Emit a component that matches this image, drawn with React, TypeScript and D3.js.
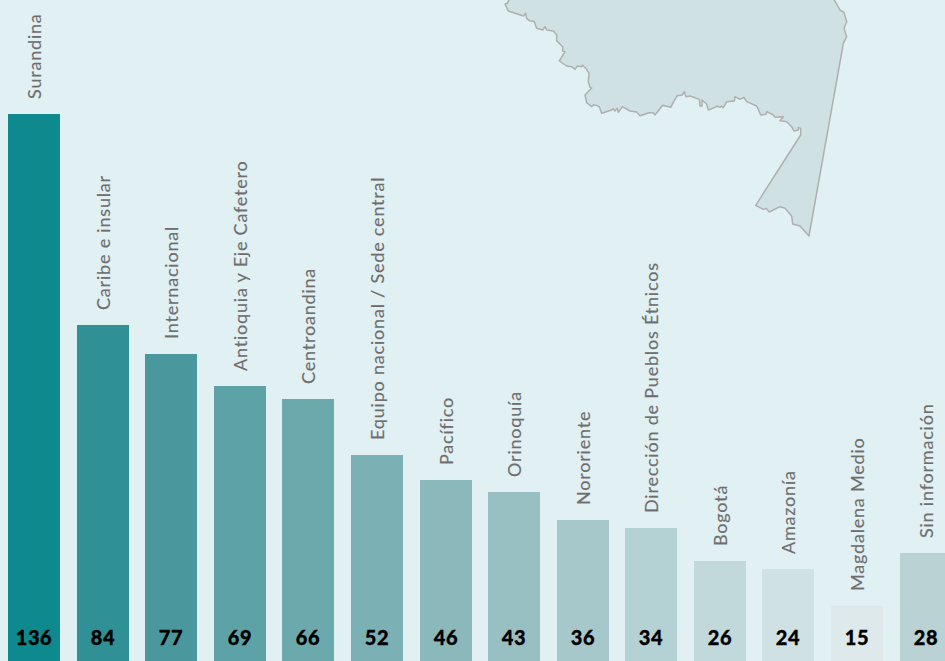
import React from "react";
import * as d3 from "d3";

const W = 945;
const H = 661;

const categories = ["Surandina","Caribe e insular","Internacional","Antioquia y Eje Cafetero","Centroandina","Equipo nacional / Sede central","Pacífico","Orinoquía","Nororiente","Dirección de Pueblos Étnicos","Bogotá","Amazonía","Magdalena Medio","Sin información"];
const values = [136,84,77,69,66,52,46,43,36,34,26,24,15,28];
const barColors = ["#0E8A8F","#2F9095","#4A989E","#5CA2A6","#6CA9AC","#7BB0B4","#8AB8BB","#98C0C3","#A6C8CB","#B4D1D3","#C2D9DC","#CFE1E3","#DDE9EA","#BAD2D3"];

// Map outline (in 3x crop units)
const mapOutline: [number, number][] = [
[57,-10],[57,0],[52,10],[45,12],[55,33],[100,48],[107,40],[110,55],[118,62],[132,64],[140,85],[158,90],[165,80],[170,90],[190,93],[200,105],[200,122],[218,140],[218,153],[225,155],[208,183],[230,198],[245,200],[255,208],[262,198],[275,200],[277,195],[290,208],[297,220],[295,245],[300,262],[305,264],[285,285],[290,308],[305,320],[312,314],[328,320],[335,340],[365,330],[370,326],[375,333],[382,325],[385,337],[397,320],[420,333],[440,336],[450,347],[478,338],[490,338],[495,345],[518,316],[542,322],[548,310],[562,287],[577,285],[583,275],[588,290],[600,288],[628,298],[630,318],[636,318],[636,300],[650,312],[655,330],[675,322],[680,318],[690,322],[695,318],[700,323],[710,305],[733,303],[735,290],[750,298],[762,292],[770,305],[800,318],[808,335],[812,345],[828,343],[830,335],[850,345],[855,352],[880,350],[870,362],[890,365],[905,380],[912,393],[925,390],[925,382],[932,385],[932,405],[797,616],[820,628],[828,625],[838,636],[870,620],[885,625],[905,648],[908,672],[930,678],[957,708],[1060,130],[1070,110],[1062,85],[1070,65],[1062,37],[1050,30],[1040,12],[1033,0],[1033,-10]
];

const FONT = "Lato, 'Open Sans', sans-serif";

export default function App() {
  const x = d3.scaleLinear().domain([0, 1]).range([8, 76.59]);
  const barW = 52;
  const y = d3.scaleLinear().domain([0, 136]).range([666.5, 114.3]);
  const mx = d3.scaleLinear().domain([0, 1110]).range([490, 860]);
  const my = d3.scaleLinear().domain([0, 735]).range([0, 245]);
  const mapPath = d3.line<[number, number]>().x((d) => mx(d[0])).y((d) => my(d[1])).curve(d3.curveLinear)(mapOutline)! + "Z";
  return (
    <svg width={W} height={H} viewBox={`0 0 ${W} ${H}`} style={{ position: "fixed", left: 0, top: 0, display: "block" }}>
      <rect width={W} height={H} fill="#E1F0F3" />
      <path d={mapPath} fill="#CFE1E3" stroke="#B0AFAF" strokeWidth={1.5} strokeLinejoin="round" />
      {categories.map((c, i) => {
        const bx = Math.round(x(i));
        const cx = bx + barW / 2;
        const top = Math.round(y(values[i]));
        return (
          <g key={c}>
            <rect x={bx} y={top} width={barW} height={H - top} fill={barColors[i]} />
            <text transform={`translate(${cx + 7},${top - 15}) rotate(-90)`} fontFamily={FONT} fontSize={18} letterSpacing={0.8} fill="#6E6E6E" stroke="#6E6E6E" strokeWidth={0.15}>{c}</text>
            <text x={cx} y={645} textAnchor="middle" fontFamily={FONT} fontWeight={900} fontSize={20} letterSpacing={0.6} fill="#000" stroke="#000" strokeWidth={0.3}>{values[i]}</text>
          </g>
        );
      })}
    </svg>
  );
}
